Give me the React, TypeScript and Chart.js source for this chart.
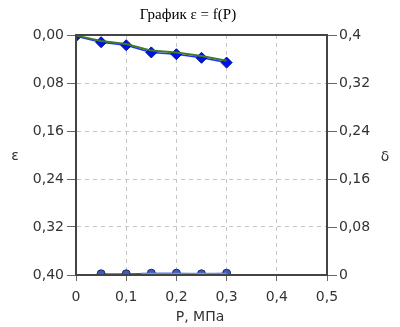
import React, { useEffect, useRef } from "react";
import { Chart, registerables } from "chart.js";

Chart.register(...registerables);

const pressure = [0, 0.05, 0.1, 0.15, 0.2, 0.25, 0.3];
const epsCalc = [0.001, 0.010, 0.015, 0.026, 0.029, 0.035, 0.043];
const epsMeas = [0.002, 0.012, 0.017, 0.029, 0.032, 0.038, 0.046];
const deltaP = [0.05, 0.1, 0.15, 0.2, 0.25, 0.3];
const deltaVals = [0.002, 0.002, 0.003, 0.003, 0.002, 0.003];
const deltaP2 = [0.13, 0.3];
const deltaVals2 = [0.002, 0.002];

const leftTicks = [0, 0.08, 0.16, 0.24, 0.32, 0.4];
const titleText = "График ε = f(P)";
const xTitle = "P, МПа";
const yLeftTitle = "ε";
const yRightTitle = "δ";

const fmt = (v: number, d: number) => v.toFixed(d).replace(".", ",");
const fmtShort = (v: number) => {
  if (Math.abs(v) < 1e-9) return "0";
  let s = v.toFixed(2);
  s = s.replace(/0+$/, "").replace(/\.$/, "");
  return s.replace(".", ",");
};

const FONT = "'DejaVu Sans', Verdana, sans-serif";

export default function App() {
  const ref = useRef<HTMLCanvasElement | null>(null);
  useEffect(() => {
    if (!ref.current) return;
    const framePlugin = {
      id: "frame",
      afterDraw(chart: any) {
        const { ctx, chartArea } = chart;
        ctx.save();
        ctx.strokeStyle = "#444";
        ctx.lineWidth = 2;
        ctx.strokeRect(chartArea.left, chartArea.top, chartArea.right - chartArea.left, chartArea.bottom - chartArea.top);
        ctx.fillStyle = "#000";
        ctx.textAlign = "center";
        ctx.textBaseline = "middle";
        ctx.font = "15px 'Liberation Serif', 'Times New Roman', serif";
        ctx.fillText(titleText, 188, 15);
        ctx.fillStyle = "#333";
        ctx.font = "14px " + FONT;
        ctx.fillText(xTitle, 200, 317);
        ctx.fillText(yLeftTitle, 15, 156);
        ctx.fillText(yRightTitle, 385, 157);
        ctx.restore();
      },
    };
    const chart = new Chart(ref.current, {
      type: "line",
      data: {
        datasets: [
          {
            label: "calc",
            data: pressure.map((p, i) => ({ x: p, y: epsCalc[i] })),
            yAxisID: "y",
            borderColor: "#3d7a2a",
            borderWidth: 2,
            pointRadius: 0,
          },
          {
            label: "meas",
            data: pressure.map((p, i) => ({ x: p, y: epsMeas[i] })),
            yAxisID: "y",
            borderColor: "#2030ff",
            borderWidth: 1.5,
            pointStyle: "rectRot",
            pointRadius: 5.5,
            pointBackgroundColor: "#0010f0",
            pointBorderColor: "#001080",
            pointBorderWidth: 1,
          },
          {
            label: "delta2",
            data: deltaP2.map((p, i) => ({ x: p, y: deltaVals2[i] })),
            yAxisID: "y1",
            borderColor: "#7090e0",
            borderWidth: 2,
            pointRadius: 0,
          },
          {
            label: "delta",
            data: deltaP.map((p, i) => ({ x: p, y: deltaVals[i] })),
            yAxisID: "y1",
            borderColor: "#3050d0",
            borderWidth: 1,
            pointStyle: "circle",
            pointRadius: 4,
            pointBackgroundColor: "#3a5cc8",
            pointBorderColor: "#1a2a60",
            pointBorderWidth: 1,
          },
        ],
      },
      options: {
        responsive: false,
        animation: false,
        layout: { padding: { top: 35, left: 0, right: 0, bottom: 0 } },
        plugins: { legend: { display: false }, tooltip: { enabled: false }, title: { display: false } },
        scales: {
          x: {
            type: "linear",
            min: 0,
            max: 0.5,
            ticks: {
              stepSize: 0.1,
              color: "#333",
              font: { family: FONT, size: 14 },
              padding: 8,
              maxRotation: 0,
              callback: (v: any) => fmtShort(Number(v)),
            },
            grid: {
              color: "#c4c4c4",
              tickColor: "#666",
              tickBorderDash: [],
              tickLength: 6,
            } as any,
            border: { display: true, color: "#444", width: 2, dash: [4, 4] } as any,
            afterFit: (s: any) => { s.height = 52; },
          },
          y: {
            type: "linear",
            position: "left",
            reverse: true,
            min: 0,
            max: 0.4,
            afterBuildTicks: (s: any) => { s.ticks = leftTicks.map((v) => ({ value: v })); },
            ticks: {
              color: "#333",
              font: { family: FONT, size: 14 },
              padding: 3,
              callback: (v: any) => fmt(Number(v), 2),
            },
            grid: {
              color: "#c4c4c4",
              tickColor: "#666",
              tickBorderDash: [],
              tickLength: 9,
            } as any,
            border: { display: true, color: "#444", width: 2, dash: [4, 4] } as any,
            afterFit: (s: any) => { s.width = 76; },
          },
          y1: {
            type: "linear",
            position: "right",
            min: 0,
            max: 0.4,
            afterBuildTicks: (s: any) => { s.ticks = leftTicks.map((v) => ({ value: v })); },
            ticks: {
              color: "#333",
              font: { family: FONT, size: 14 },
              padding: 2,
              callback: (v: any) => fmtShort(Number(v)),
            },
            grid: {
              drawOnChartArea: false,
              tickColor: "#666",
              tickLength: 10,
            },
            border: { display: true, color: "#444", width: 2 },
            afterFit: (s: any) => { s.width = 73; },
          },
        },
      } as any,
      plugins: [framePlugin],
    });
    return () => chart.destroy();
  }, []);
  return (
    <div style={{ position: "fixed", left: 0, top: 0, width: 400, height: 327, background: "#fff" }}>
      <canvas ref={ref} width={400} height={327} style={{ display: "block" }} />
    </div>
  );
}
